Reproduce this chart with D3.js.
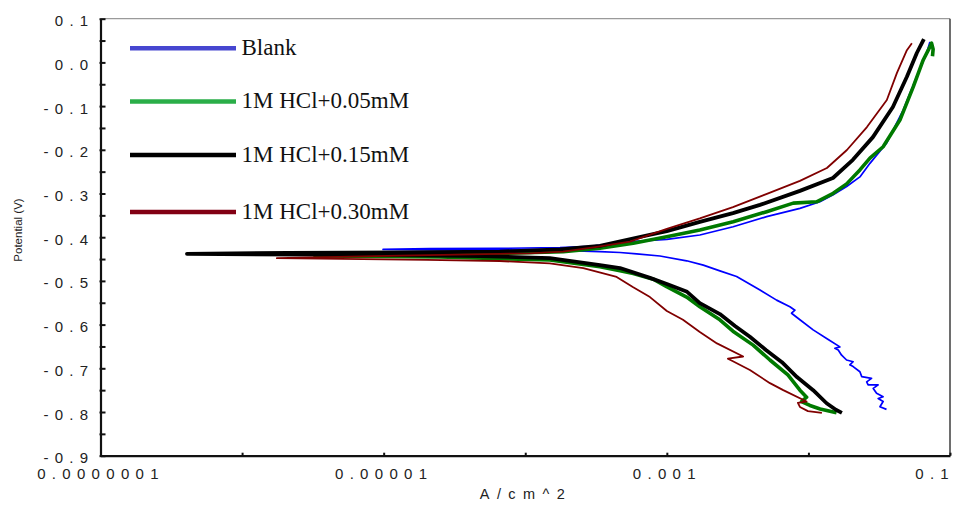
<!DOCTYPE html>
<html>
<head>
<meta charset="utf-8">
<script src="https://cdn.jsdelivr.net/npm/d3@7"></script>
<style>
  body { margin: 0; background: #fff; }
  svg { display: block; }
</style>
</head>
<body>
<svg id="chart" width="959" height="506"></svg>
<script>
// Potentiodynamic polarization scans: [potential (V), current density (A/cm^2)],
// ordered from the cathodic end of the sweep to the anodic end.
const blankScan = [
  [-0.794, 0.0356], [-0.788, 0.0320], [-0.776, 0.0337], [-0.769, 0.0311], [-0.765, 0.0337],
  [-0.757, 0.0303], [-0.746, 0.0287], [-0.738, 0.0311], [-0.738, 0.0264], [-0.731, 0.0258],
  [-0.723, 0.0279], [-0.719, 0.0238], [-0.708, 0.0231], [-0.696, 0.0207], [-0.692, 0.0196],
  [-0.685, 0.0207], [-0.681, 0.0186], [-0.670, 0.01716], [-0.658, 0.01624], [-0.654, 0.01538],
  [-0.651, 0.01669], [-0.634, 0.0138], [-0.612, 0.0108], [-0.589, 0.00871], [-0.574, 0.0076],
  [-0.567, 0.00803], [-0.559, 0.0074], [-0.544, 0.00596], [-0.521, 0.00455], [-0.490, 0.00311],
  [-0.477, 0.00237], [-0.464, 0.00181], [-0.454, 0.00138], [-0.443, 0.000894], [-0.438, 0.000612],
  [-0.435, 0.000467], [-0.433, 0.000337], [-0.430, 0.000176], [-0.429, 6.6e-5], [-0.429, 2.5e-5],
  [-0.428, 9.9e-6], [-0.426, 2.12e-5], [-0.4255, 6.6e-5], [-0.424, 1.76e-4], [-0.421, 2.86e-4],
  [-0.410, 5.49e-4], [-0.405, 1.0e-3], [-0.395, 0.00171], [-0.376, 0.00294], [-0.353, 0.00507],
  [-0.334, 0.00871], [-0.319, 0.01206], [-0.303, 0.01496], [-0.284, 0.01862], [-0.262, 0.0231],
  [-0.231, 0.0272], [-0.185, 0.0356], [-0.109, 0.0467], [-0.033, 0.0581], [0.021, 0.0684],
  [0.047, 0.0721]
];

const scan005 = [
  [-0.802, 0.0158], [-0.793, 0.0121], [-0.785, 0.01025], [-0.776, 0.00895], [-0.766, 0.00971],
  [-0.750, 0.00871], [-0.715, 0.00716], [-0.681, 0.00535], [-0.647, 0.00407], [-0.615, 0.00293],
  [-0.589, 0.00237], [-0.559, 0.00171], [-0.537, 0.00138], [-0.513, 0.000997], [-0.496, 0.000802],
  [-0.483, 0.000579], [-0.477, 0.000467], [-0.4675, 0.000337], [-0.452, 1.49e-4], [-0.449, 6.6e-5],
  [-0.445, 2.5e-5], [-0.444, 9.4e-6], [-0.443, 3.27e-6], [-0.440, 1.3e-5], [-0.437, 6.6e-5],
  [-0.433, 1.855e-4], [-0.425, 3.37e-4], [-0.414, 5.79e-4], [-0.399, 9.97e-4], [-0.3835, 0.00171],
  [-0.3645, 0.00294], [-0.3416, 0.00507], [-0.322, 0.00781], [-0.319, 0.01143], [-0.2995, 0.01496],
  [-0.278, 0.01862], [-0.246, 0.0231], [-0.219, 0.0272], [-0.193, 0.0337], [-0.132, 0.0443],
  [-0.056, 0.0550], [0.0055, 0.0647], [0.028, 0.0702], [0.044, 0.0741], [0.030, 0.0760],
  [0.014, 0.0752]
];

const scan015 = [
  [-0.802, 0.01724], [-0.795, 0.01563], [-0.780, 0.01344], [-0.750, 0.0108], [-0.720, 0.0083],
  [-0.686, 0.0065], [-0.658, 0.00501], [-0.628, 0.00386], [-0.603, 0.00303], [-0.576, 0.00237],
  [-0.551, 0.00171], [-0.525, 0.00139], [-0.507, 0.0010], [-0.493, 0.00076], [-0.4705, 0.000467],
  [-0.464, 0.000337], [-0.448, 1.49e-4], [-0.443, 4.79e-5], [-0.441, 1.3e-5], [-0.440, 2.56e-6],
  [-0.438, 4.08e-7], [-0.436, 2.11e-6], [-0.435, 1.3e-5], [-0.433, 6.6e-5], [-0.428, 1.76e-4],
  [-0.420, 3.37e-4], [-0.403, 5.75e-4], [-0.386, 0.0010], [-0.365, 0.00171], [-0.345, 0.00293],
  [-0.326, 0.00455], [-0.294, 0.00871], [-0.2645, 0.0149], [-0.223, 0.0206], [-0.171, 0.02854],
  [-0.102, 0.0395], [-0.033, 0.0496], [0.0215, 0.0583], [0.0535, 0.0654]
];

const scan030 = [
  [-0.802, 0.01245], [-0.798, 0.00992], [-0.7885, 0.00871], [-0.779, 0.00843], [-0.776, 0.00971],
  [-0.750, 0.00664], [-0.734, 0.00535], [-0.704, 0.00386], [-0.684, 0.00293], [-0.678, 0.0027],
  [-0.673, 0.00346], [-0.643, 0.00226], [-0.617, 0.00171], [-0.589, 0.0013], [-0.569, 0.0010],
  [-0.537, 0.00076], [-0.514, 0.000575], [-0.491, 0.000442], [-0.471, 0.000257], [-0.460, 1.49e-4],
  [-0.4545, 6.6e-5], [-0.452, 2.02e-5], [-0.448, 1.76e-6], [-0.442, 1.3e-5], [-0.438, 6.6e-5],
  [-0.437, 1.08e-4], [-0.433, 1.85e-4], [-0.422, 3.21e-4], [-0.410, 5.49e-4], [-0.381, 0.0010],
  [-0.357, 0.00171], [-0.331, 0.00293], [-0.301, 0.00509], [-0.271, 0.00871], [-0.2416, 0.01351],
  [-0.2005, 0.0187], [-0.148, 0.0259], [-0.086, 0.0358], [-0.024, 0.0422], [0.028, 0.0496],
  [0.044, 0.0538]
];

const seriesNames = ["Blank", "1M HCl+0.05mM", "1M HCl+0.15mM", "1M HCl+0.30mM"];
const seriesData = [blankScan, scan005, scan015, scan030];

// Axis ticks
const xTickValues = [1e-7, 1e-6, 1e-5, 1e-4, 1e-3, 1e-2, 1e-1];
const xLabelValues = [1e-7, 1e-5, 1e-3, 1e-1];
const xTickLabels = ["0.0000001", "0.00001", "0.001", "0.1"];
const yTickSteps = d3.range(-18, 3);          // potential ticks in 0.05 V steps
const yTickValues = yTickSteps.map(k => k / 20);

// Styling
const lineColors = ["#0000ff", "#007a00", "#000000", "#800000"];
const lineWidths = [1.7, 3.6, 3.8, 1.8];
const legendColors = ["#4646d0", "#2aae48", "#000000", "#820014"];
const drawOrder = [0, 1, 2, 3];

const svg = d3.select("#chart");
svg.append("rect").attr("width", 959).attr("height", 506).attr("fill", "#fff");

const plotLeft = 100.5, plotRight = 950, plotTop = 18.7, plotBottom = 455.7;
const x = d3.scaleLog().domain([1e-7, 1e-1]).range([plotLeft, plotRight]);
const y = d3.scaleLinear().domain([-0.9, 0.1]).range([plotBottom, plotTop]);

// Frame: top and right edges
svg.append("line").attr("x1", plotLeft).attr("x2", plotRight).attr("y1", plotTop).attr("y2", plotTop)
  .attr("stroke", "#9a9a9a").attr("stroke-width", 1.2);
svg.append("line").attr("x1", plotRight).attr("x2", plotRight).attr("y1", plotTop).attr("y2", plotBottom)
  .attr("stroke", "#4a4a4a").attr("stroke-width", 1.6);

// Curves
svg.append("clipPath").attr("id", "plotClip").append("rect")
  .attr("x", plotLeft).attr("y", plotTop)
  .attr("width", plotRight - plotLeft).attr("height", plotBottom - plotTop);
const line = d3.line().x(d => x(d[1])).y(d => y(d[0]));
const curves = svg.append("g").attr("clip-path", "url(#plotClip)");
drawOrder.forEach(i => {
  curves.append("path")
    .datum(seriesData[i])
    .attr("d", line)
    .attr("fill", "none")
    .attr("stroke", lineColors[i])
    .attr("stroke-width", lineWidths[i])
    .attr("stroke-linejoin", "round");
});

// Left axis
const yFormat = d => {
  const k = Math.round(d * 20);
  return k % 2 === 0 ? (k / 20).toFixed(1) : "";
};
const gy = svg.append("g").attr("transform", `translate(${plotLeft},0)`)
  .call(d3.axisLeft(y).tickValues(yTickValues).tickSizeInner(-5).tickSizeOuter(0)
    .tickPadding(6).tickFormat(yFormat));
gy.select(".domain").attr("stroke", "#111").attr("stroke-width", 2.2);
gy.selectAll(".tick line").attr("x1", -1).attr("stroke", "#111").attr("stroke-width", 2);
gy.selectAll(".tick text")
  .attr("dy", 7)
  .attr("fill", "#222")
  .style("font-family", "'Liberation Sans', Arial, sans-serif")
  .style("font-size", "15px")
  .style("letter-spacing", "6.3px");

// Bottom axis
const xFormat = d => {
  const idx = xLabelValues.findIndex(v => Math.abs(Math.log10(v) - Math.log10(d)) < 1e-6);
  return idx >= 0 ? xTickLabels[idx] : "";
};
const gx = svg.append("g").attr("transform", `translate(0,${plotBottom})`)
  .call(d3.axisBottom(x).tickValues(xTickValues).tickSizeInner(-3).tickSizeOuter(0)
    .tickFormat(xFormat));
gx.select(".domain").attr("stroke", "#111").attr("stroke-width", 2.2);
gx.selectAll(".tick line").attr("stroke", "#111").attr("stroke-width", 2);
gx.selectAll(".tick text")
  .attr("y", 23.8)
  .attr("dy", 0)
  .attr("fill", "#222")
  .style("font-family", "'Liberation Sans', Arial, sans-serif")
  .style("font-size", "15px")
  .style("letter-spacing", "6.3px");
// the label at the right edge is end-aligned so it stays inside the page
gx.selectAll(".tick text").filter(d => Math.abs(Math.log10(d) + 1) < 1e-6)
  .attr("text-anchor", "end")
  .attr("x", 4.5);

// Axis titles
svg.append("text")
  .attr("x", 526).attr("y", 499)
  .attr("text-anchor", "middle")
  .attr("fill", "#222")
  .style("font-family", "'Liberation Sans', Arial, sans-serif")
  .style("font-size", "14.5px")
  .style("letter-spacing", "7.4px")
  .text("A/cm^2");

svg.append("text")
  .attr("transform", "translate(22,230) rotate(-90)")
  .attr("text-anchor", "middle")
  .attr("fill", "#222")
  .style("font-family", "'Liberation Sans', Arial, sans-serif")
  .style("font-size", "11.5px")
  .text("Potential (V)");

// Legend
const legendY = [48.3, 101.5, 155, 212];
const legend = svg.append("g");
seriesNames.forEach((name, i) => {
  legend.append("line")
    .attr("x1", 130).attr("x2", 236)
    .attr("y1", legendY[i]).attr("y2", legendY[i])
    .attr("stroke", legendColors[i]).attr("stroke-width", 4.5);
  legend.append("text")
    .attr("x", 241.5).attr("y", legendY[i] + 6.5)
    .attr("fill", "#111")
    .style("font-family", "'Liberation Serif', 'Times New Roman', serif")
    .style("font-size", "23px")
    .text(name);
});
</script>
</body>
</html>
